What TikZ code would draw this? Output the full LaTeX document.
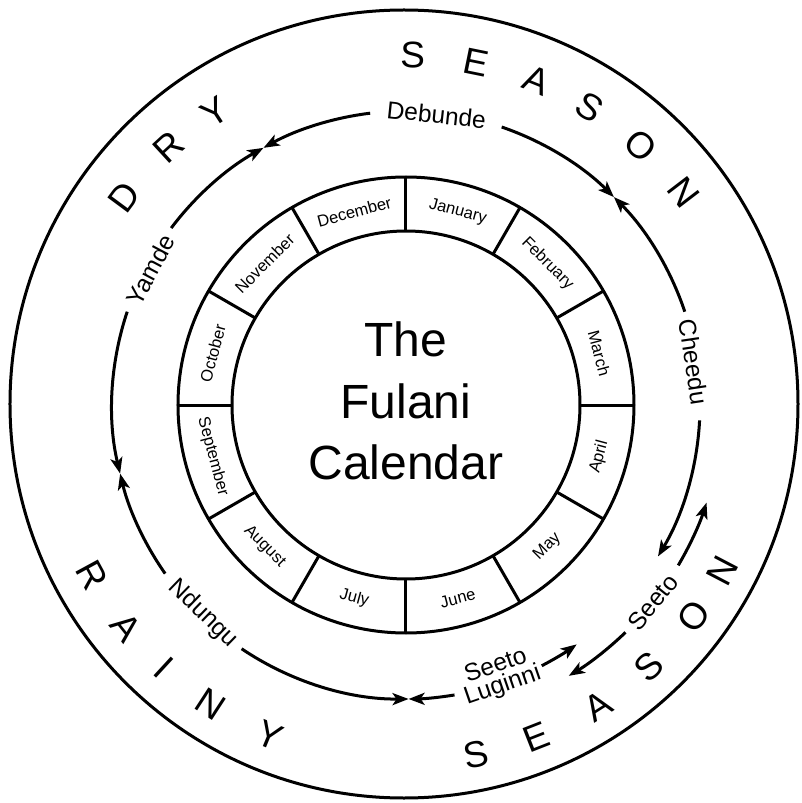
\documentclass[tikz,border=0pt]{standalone}
\usepackage{fontspec}
\setmainfont{Liberation Sans}
\usetikzlibrary{arrows.meta}
\begin{document}
\begin{tikzpicture}[x=1pt,y=1pt,
  ring/.style={line width=3pt},
  month/.style={font=\fontsize{16.5}{19}\selectfont,inner sep=0pt},
  period/.style={font=\fontsize{24.5}{21}\selectfont,inner sep=0pt,align=center},
  letter/.style={font=\fontsize{37}{40}\selectfont,inner sep=0pt},
  flow/.style={line width=3pt,-{Stealth[length=16pt,width=12pt,inset=4pt]}}]
\useasboundingbox (-406,-398) rectangle (395,405);
\draw[ring] (-2,1) circle[radius=394pt];
\draw[ring] (0,0) circle[radius=228pt];
\draw[ring] (0,0) circle[radius=174pt];
\foreach \a in {0,30,...,330} \draw[ring] (\a:174) -- (\a:228);
\node[font=\fontsize{48}{61.5}\selectfont,align=center] (title) at (0,4) {The\\Fulani\\Calendar};
\node[month,rotate=-15] (jan) at (75:200) {January};
\node[month,rotate=-45] (feb) at (45:200) {February};
\node[month,rotate=-75] (mar) at (15:200) {March};
\node[month,rotate=75] (apr) at (-15:200) {April};
\node[month,rotate=45] (may) at (-45:200) {May};
\node[month,rotate=15] (jun) at (-75:200) {June};
\node[month,rotate=-15] (jul) at (-105:200) {July};
\node[month,rotate=-45] (aug) at (-135:200) {August};
\node[month,rotate=-75] (sep) at (-165:200) {September};
\node[month,rotate=75] (oct) at (165:200) {October};
\node[month,rotate=45] (nov) at (135:200) {November};
\node[month,rotate=15] (dec) at (105:200) {December};
\node[period,rotate=-6] (debunde) at (84:292) {Debunde};
\node[period,rotate=62] (yamde) at (152.2:289) {Yamde};
\node[period,rotate=-81.5] (cheedu) at (8.5:291) {Cheedu};
\node[period,rotate=-44] (ndungu) at (225.8:291) {Ndungu};
\node[period,rotate=19] (luginni) at (-71:287) {Seeto\\Luginni};
\node[period,rotate=51.4] (seeto) at (-38.6:316) {Seeto};
\coordinate (deb-l) at (97:294);
\coordinate (deb-r) at (71:294);
\coordinate (yam-u) at (143:294);
\coordinate (yam-d) at (161.5:294);
\coordinate (ndu-u) at (215:294);
\coordinate (ndu-r) at (236:294);
\coordinate (lug-l) at (279.5:294);
\coordinate (lug-r) at (297.5:294);
\coordinate (see-l) at (314:316);
\coordinate (see-r) at (329.5:316);
\coordinate (chee-d) at (357:294);
\coordinate (chee-u) at (18.5:294);
\draw[flow] (deb-l) arc[start angle=97,end angle=119,radius=294pt];
\draw[flow] (yam-u) arc[start angle=143,end angle=119,radius=294pt];
\draw[flow] (yam-d) arc[start angle=161.5,end angle=193.5,radius=294pt];
\draw[flow] (ndu-u) arc[start angle=215,end angle=193.5,radius=294pt];
\draw[flow] (ndu-r) arc[start angle=236,end angle=270.5,radius=294pt];
\draw[flow] (lug-l) arc[start angle=279.5,end angle=270.5,radius=294pt];
\draw[flow] (lug-r) arc[start angle=297.5,end angle=305.5,radius=294pt];
\draw[flow] (see-l) arc[start angle=314,end angle=301,radius=316pt];
\draw[flow] (see-r) arc[start angle=329.5,end angle=342,radius=316pt];
\draw[flow] (chee-d) arc[start angle=357,end angle=329,radius=294pt];
\draw[flow] (chee-u) arc[start angle=18.5,end angle=45,radius=294pt];
\draw[flow] (deb-r) arc[start angle=71,end angle=45,radius=294pt];
\foreach \c/\a [count=\i] in {D/143.5,R/132.6,Y/123.2,S/88.8,E/78.5,A/68.1,S/58.3,O/47.8,N/37.4}
  \node[letter,rotate=\a-90] (dry\i) at (\a:350) {\c};
\foreach \c/\a [count=\i] in {R/208.5,A/218.5,I/227.4,N/236.9,Y/247.6,S/281.4,E/291.4,A/302.5,S/312.9,O/323.7,N/332.4}
  \node[letter,rotate=\a+90] (rainy\i) at (\a:357) {\c};
\end{tikzpicture}
\end{document}
